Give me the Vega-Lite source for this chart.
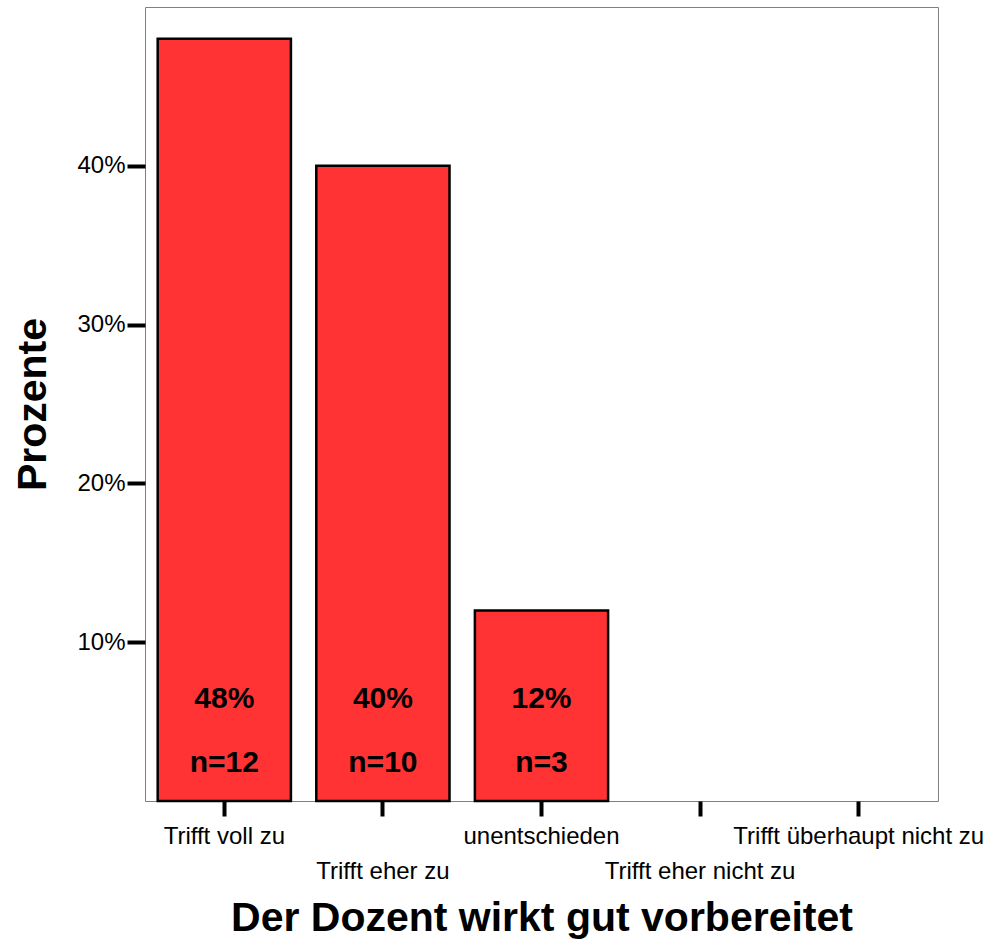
{
  "$schema": "https://vega.github.io/schema/vega-lite/v6.json",
  "width": 793,
  "height": 794,
  "autosize": "none",
  "padding": {"left": 145, "top": 7, "right": 48, "bottom": 143},
  "background": "white",
  "config": {
    "font": "Liberation Sans",
    "view": {"stroke": "#808080", "strokeWidth": 1}
  },
  "data": {
    "values": [
      {"cat": "Trifft voll zu", "pct": 48, "n": 12},
      {"cat": "Trifft eher zu", "pct": 40, "n": 10},
      {"cat": "unentschieden", "pct": 12, "n": 3},
      {"cat": "Trifft eher nicht zu", "pct": 0, "n": 0},
      {"cat": "Trifft überhaupt nicht zu", "pct": 0, "n": 0}
    ]
  },
  "encoding": {
    "x": {
      "field": "cat",
      "type": "nominal",
      "sort": null,
      "scale": {
        "domain": ["Trifft voll zu", "Trifft eher zu", "unentschieden", "Trifft eher nicht zu", "Trifft überhaupt nicht zu"],
        "paddingInner": 0.16,
        "paddingOuter": 0.08
      },
      "axis": {
        "title": "Der Dozent wirkt gut vorbereitet",
        "titleFontSize": 41,
        "titleFontWeight": "bold",
        "titleColor": "black",
        "titlePadding": 15,
        "labelAngle": 0,
        "labelFontSize": 24,
        "labelColor": "black",
        "labelPadding": {
          "condition": {"test": "indexof(['Trifft eher zu','Trifft eher nicht zu'], datum.value) >= 0", "value": 43},
          "value": 8
        },
        "labelLimit": 400,
        "labelOverlap": false,
        "tickSize": 15,
        "tickWidth": 4,
        "tickColor": "black",
        "domain": false
      }
    }
  },
  "layer": [
    {
      "transform": [{"filter": "datum.pct > 0"}],
      "mark": {"type": "bar", "color": "#FF3333", "stroke": "black", "strokeWidth": 2.5},
      "encoding": {
        "y": {
          "field": "pct",
          "type": "quantitative",
          "scale": {"domain": [0, 50], "nice": false},
          "axis": {
            "title": "Prozente",
            "titleFontSize": 41,
            "titleFontWeight": "bold",
            "titleColor": "black",
            "titlePadding": 22,
            "values": [10, 20, 30, 40],
            "labelExpr": "datum.value + '%'",
            "labelFontSize": 24,
            "labelColor": "black",
            "labelPadding": 2,
            "tickSize": 18,
            "tickWidth": 4,
            "tickColor": "black",
            "grid": false,
            "domain": false
          }
        }
      }
    },
    {
      "transform": [{"filter": "datum.pct > 0"}, {"calculate": "datum.pct + '%'", "as": "plabel"}],
      "mark": {"type": "text", "fontSize": 30, "fontWeight": "bold", "color": "black", "baseline": "middle"},
      "encoding": {
        "y": {"datum": 6.4, "type": "quantitative"},
        "text": {"field": "plabel", "type": "nominal"}
      }
    },
    {
      "transform": [{"filter": "datum.pct > 0"}, {"calculate": "'n=' + datum.n", "as": "nlabel"}],
      "mark": {"type": "text", "fontSize": 30, "fontWeight": "bold", "color": "black", "baseline": "middle"},
      "encoding": {
        "y": {"datum": 2.4, "type": "quantitative"},
        "text": {"field": "nlabel", "type": "nominal"}
      }
    }
  ]
}
